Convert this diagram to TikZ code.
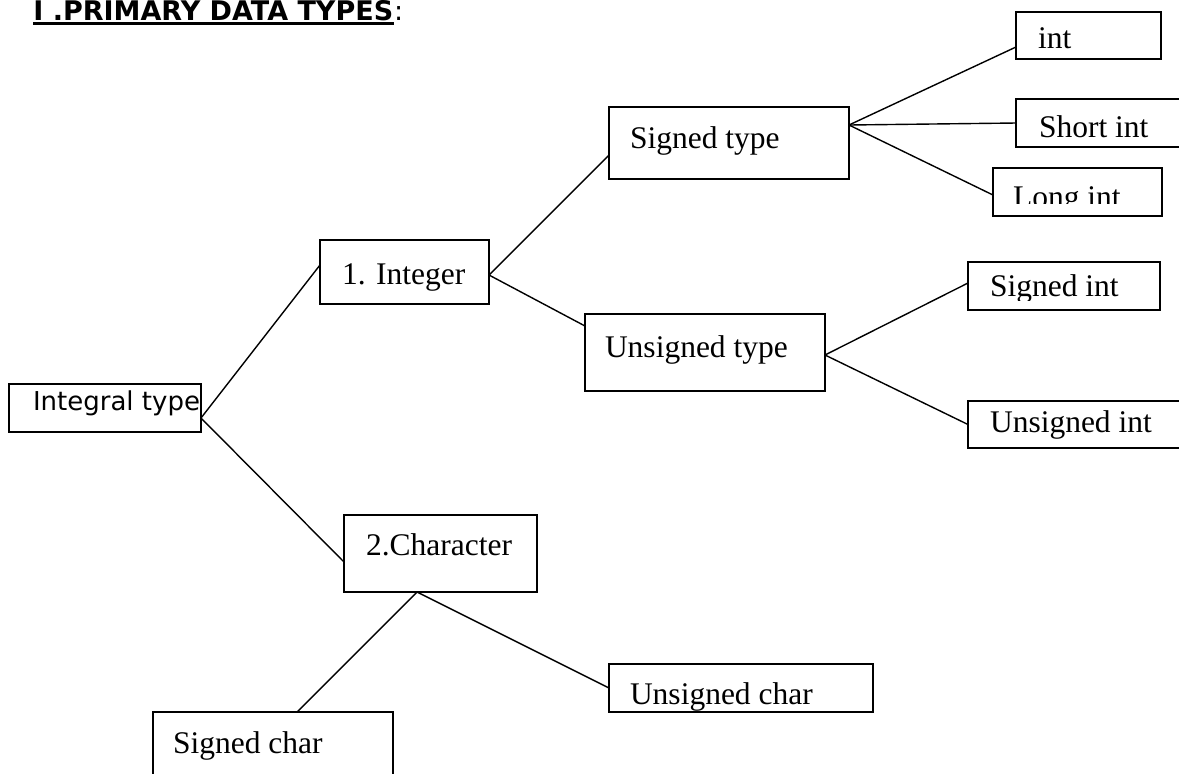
\documentclass[tikz,border=0pt]{standalone}
\usepackage{fontspec}
\setmainfont{Liberation Serif}
\newfontfamily\verd{DejaVu Sans}
\usepackage{tikz}

\newcommand{\tm}{\fontsize{15.75}{18}\selectfont}
% text inside a box: left pad, baseline from top, cut from top, text
\newcommand{\boxtext}[4]{%
  \clip (path picture bounding box.north west) rectangle ([yshift=-#3]path picture bounding box.north east);
  \node[anchor=base west, inner sep=0pt, minimum width=0pt, minimum height=0pt] at ([xshift=#1, yshift=-#2]path picture bounding box.north west) {#4};}

\begin{document}
\begin{tikzpicture}[x=0.5pt, y=-0.5pt,
  box/.style={draw, line width=0.8pt, anchor=north west, inner sep=0pt, outer sep=0pt},
  link/.style={line width=0.7pt}]
\useasboundingbox (0,0) rectangle (1179,773);
\clip (0,0) rectangle (1179,773);

% heading
\node[anchor=base west, inner sep=0pt, font={\verd\bfseries\fontsize{13.5}{16}\selectfont}] (title) at (33,20) {I .PRIMARY DATA TYPES};
\node[anchor=base west, inner sep=0pt, font={\verd\fontsize{13.5}{16}\selectfont}] (colon) at (title.base east) {:};
\draw[line width=1.5pt] ([yshift=-1.75pt]title.base west) -- ([yshift=-1.75pt]title.base east);

% boxes
\node[box, minimum width=96pt, minimum height=24pt, path picture={\boxtext{12pt}{13pt}{24pt}{\verd\fontsize{13}{15}\selectfont Integral type}}] (intg) at (9,384) {};
\node[box, minimum width=84.5pt, minimum height=32pt, path picture={\boxtext{11pt}{22pt}{32pt}{\tm 1. Integer}}] (integer) at (320,240) {};
\node[box, minimum width=96.5pt, minimum height=38.5pt, path picture={\boxtext{11pt}{20pt}{38.5pt}{\tm 2.Character}}] (chr) at (344,515) {};
\node[box, minimum width=120pt, minimum height=36pt, path picture={\boxtext{10.5pt}{20.5pt}{36pt}{\tm Signed type}}] (signedt) at (609,107) {};
\node[box, minimum width=120pt, minimum height=38.5pt, path picture={\boxtext{10pt}{21.5pt}{38.5pt}{\tm Unsigned type}}] (unsignedt) at (585,314) {};
\node[box, minimum width=72.5pt, minimum height=23.5pt, path picture={\boxtext{11pt}{18pt}{23.5pt}{\tm int}}] (int1) at (1016,12) {};
\node[box, minimum width=92pt, minimum height=24pt, path picture={\boxtext{11.5pt}{19pt}{24pt}{\tm Short int}}] (shortint) at (1016,99) {};
\node[box, minimum width=84.5pt, minimum height=24pt, path picture={\boxtext{10pt}{19.5pt}{17.5pt}{\tm Long int}}] (longint) at (993,168) {};
\node[box, minimum width=96pt, minimum height=24pt, path picture={\boxtext{11pt}{17pt}{19pt}{\tm Signed int}}] (sint) at (968,262) {};
\node[box, minimum width=116pt, minimum height=23.5pt, path picture={\boxtext{11pt}{15.5pt}{18.5pt}{\tm Unsigned int}}] (uint) at (968,401) {};
\node[box, minimum width=132pt, minimum height=24pt, path picture={\boxtext{10.5pt}{20pt}{23pt}{\tm Unsigned char}}] (uchar) at (609,664) {};
\node[box, minimum width=120pt, minimum height=44pt, path picture={\boxtext{10pt}{20.5pt}{44pt}{\tm Signed char}}] (schar) at (153,712) {};

% lines
\draw[link] ([yshift=-5pt]intg.east) -- ([yshift=3.5pt]integer.west);
\draw[link] ([yshift=-5pt]intg.east) -- ([yshift=-4.25pt]chr.west);
\draw[link] ([yshift=-1.5pt]integer.east) -- ([yshift=-6pt]signedt.west);
\draw[link] ([yshift=-1.5pt]integer.east) -- ([yshift=13.25pt]unsignedt.west);
\draw[link] ([yshift=9pt]signedt.east) -- ([yshift=-5.75pt]int1.west);
\draw[link] ([yshift=9pt]signedt.east) -- (shortint.west);
\draw[link] ([yshift=9pt]signedt.east) -- ([yshift=-1.5pt]longint.west);
\draw[link] ([yshift=-1.25pt]unsignedt.east) -- ([yshift=1.5pt]sint.west);
\draw[link] ([yshift=-1.25pt]unsignedt.east) -- (uint.west);
\draw[link] ([xshift=-11.75pt]chr.south) -- ([xshift=12pt]schar.north);
\draw[link] ([xshift=-11.75pt]chr.south) -- (uchar.west);

\end{tikzpicture}
\end{document}
